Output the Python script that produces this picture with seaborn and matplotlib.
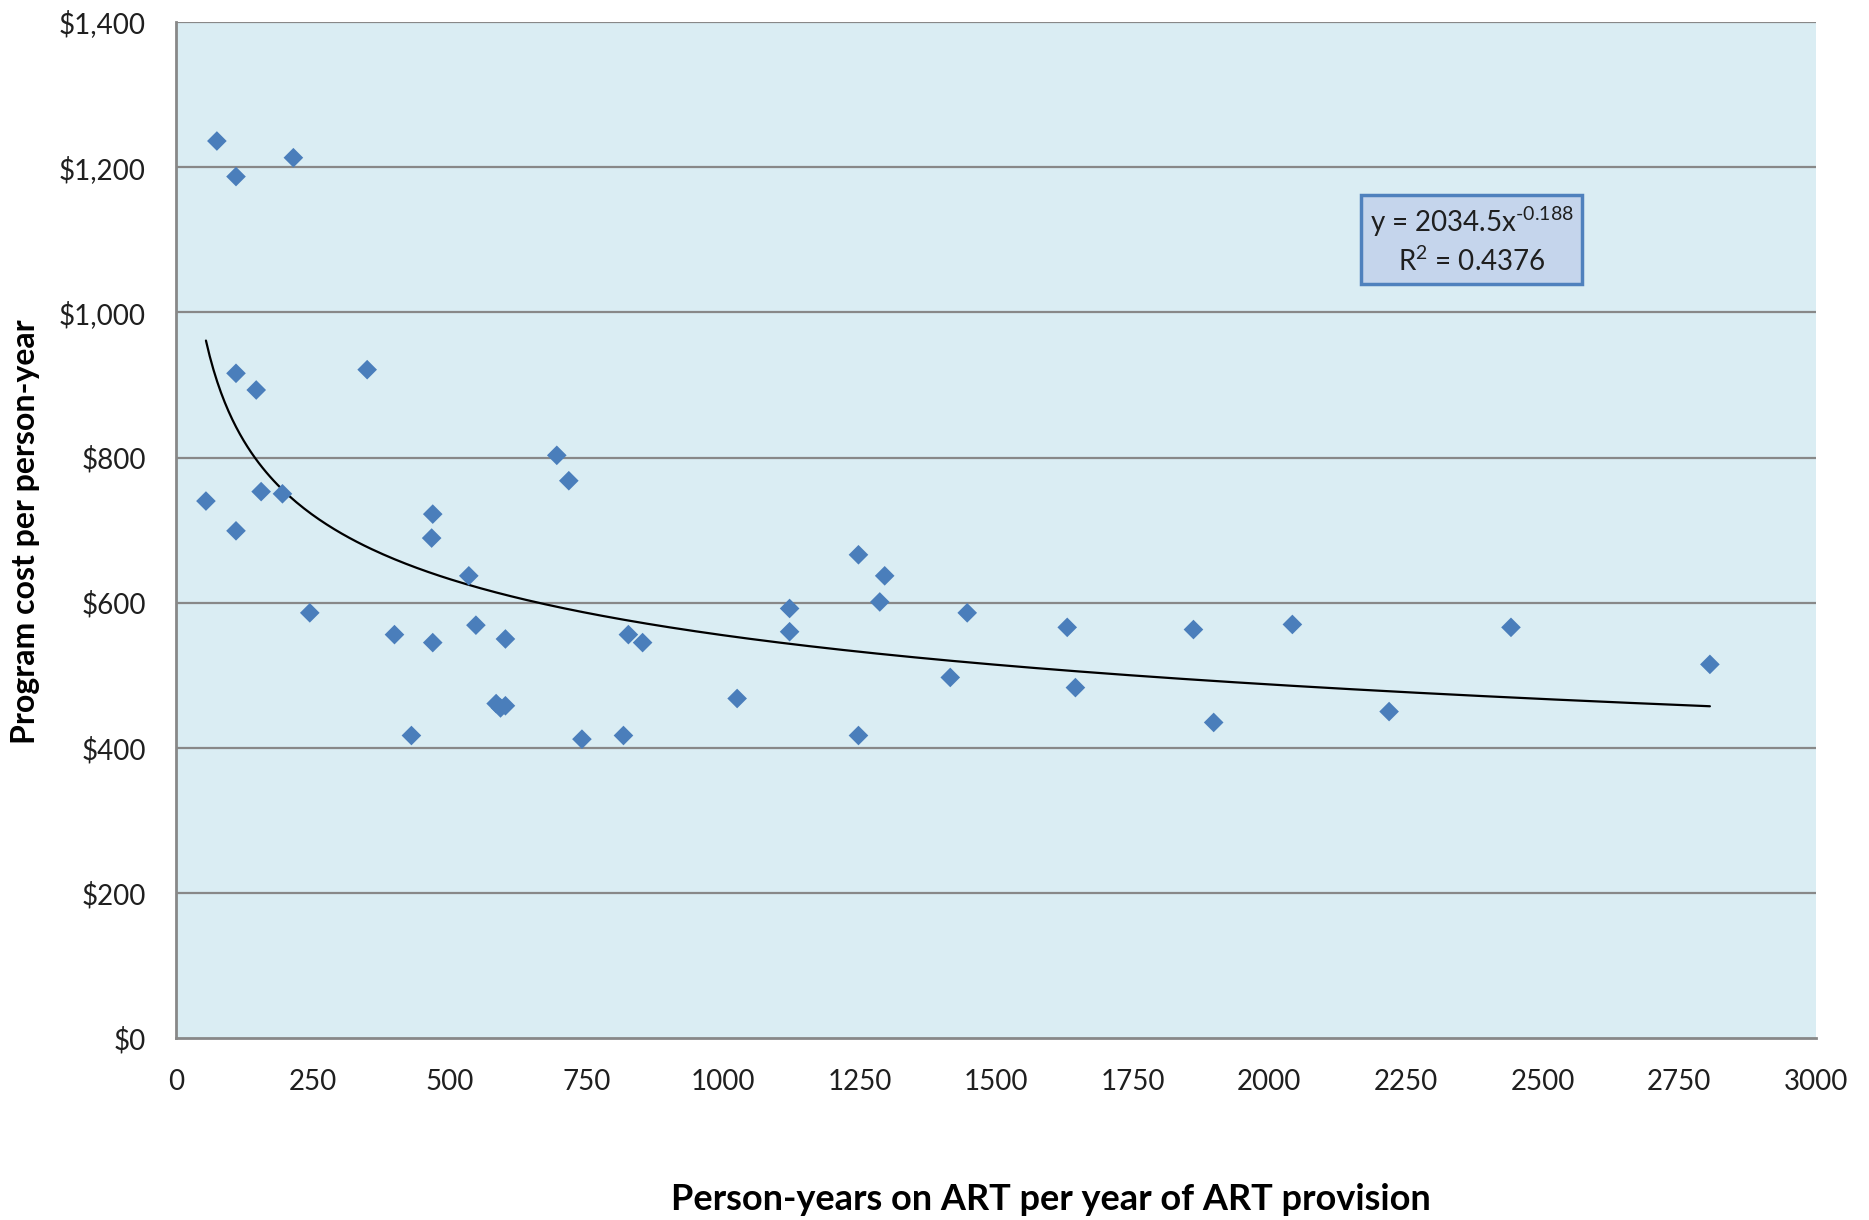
"""
ART program cost per person-year vs. scale, with power trendline.
"""

import numpy as np
import pandas as pd
import matplotlib
matplotlib.use("Agg")
import matplotlib.pyplot as plt
import seaborn as sns
from matplotlib.ticker import FuncFormatter

# -----------------------------
# Data
# -----------------------------
person_years = [
    54, 74, 109, 109, 109, 146, 155, 194, 214, 244,
    349, 399, 430, 467, 469, 469, 535, 548, 585, 593,
    602, 602, 696, 718, 742, 818, 827, 853, 1026, 1122,
    1122, 1248, 1248, 1287, 1296, 1416, 1447, 1630, 1645, 1861,
    1898, 2042, 2219, 2442, 2806,
]
cost_per_py = [
    740, 1236, 1187, 916, 699, 893, 753, 750, 1213, 586,
    921, 556, 417, 689, 722, 545, 637, 569, 461, 455,
    458, 550, 803, 768, 412, 417, 556, 545, 468, 592,
    560, 666, 417, 601, 637, 497, 586, 566, 483, 563,
    435, 570, 450, 566, 515,
]

# power trendline as reported on the chart
fit_a = 2034.5
fit_b = -0.188
fit_r2 = 0.4376

x_ticks = list(range(0, 3001, 250))
y_ticks = list(range(0, 1401, 200))

FONT = ["Lato", "DejaVu Sans"]


def main():
    sns.set_theme(style="white")
    plt.rcParams["font.family"] = FONT
    plt.rcParams["mathtext.fontset"] = "custom"
    plt.rcParams["mathtext.rm"] = "Lato"
    plt.rcParams["mathtext.it"] = "Lato:italic"

    df = pd.DataFrame({"x": person_years, "y": cost_per_py})

    fig = plt.figure(figsize=(18.69, 12.2), dpi=100)
    ax = fig.add_axes([0.0944, 0.149, 0.8772, 0.833])
    ax.set_facecolor("#DAEDF3")

    # gridlines
    for v in y_ticks[1:]:
        ax.axhline(v, color="#888888", lw=1.6, zorder=1)

    # trend line
    xs = np.linspace(min(person_years), max(person_years), 400)
    trend = pd.DataFrame({"x": xs, "y": fit_a * xs ** fit_b})
    sns.lineplot(data=trend, x="x", y="y", ax=ax, color="black", lw=1.6, zorder=3)

    # points
    sns.scatterplot(data=df, x="x", y="y", ax=ax, marker="D", s=100,
                    color="#4A7EBB", edgecolor="none", linewidth=0, zorder=4)

    ax.set_xlim(0, 3000)
    ax.set_ylim(0, 1400)
    ax.set_xticks(x_ticks)
    ax.set_yticks(y_ticks)
    ax.yaxis.set_major_formatter(FuncFormatter(lambda v, p: f"${v:,.0f}"))

    for side in ["top", "right"]:
        ax.spines[side].set_visible(False)
    for side in ["left", "bottom"]:
        ax.spines[side].set_color("#888888")
        ax.spines[side].set_linewidth(2)

    ax.tick_params(axis="both", direction="out", length=8, width=1.6,
                   color="#888888", labelcolor="#1F1F1F", labelsize=20)
    ax.tick_params(axis="x", pad=14)
    ax.tick_params(axis="y", pad=14)

    ax.set_xlabel("")
    ax.set_ylabel("")
    fig.text(0.562, 0.0164, "Person-years on ART per year of ART provision",
             ha="center", va="center", fontsize=26, fontweight="bold", color="black")
    fig.text(0.0139, 0.564, "Program cost per person-year", rotation=90,
             ha="center", va="center", fontsize=23, fontweight="bold", color="black")

    # equation box
    ax.text(0.790, 0.785, "y = 2034.5x$^{\\text{-0.188}}$\nR$^{2}$ = 0.4376",
            transform=ax.transAxes, ha="center", va="center", fontsize=20,
            color="#1F1F1F", linespacing=1.3, zorder=6,
            bbox=dict(boxstyle="square,pad=0.3", facecolor="#C5D5EC",
                      edgecolor="#4F81BD", linewidth=2.5))

    fig.savefig("out.png", dpi=100, facecolor="white")
    plt.close(fig)


if __name__ == "__main__":
    main()
